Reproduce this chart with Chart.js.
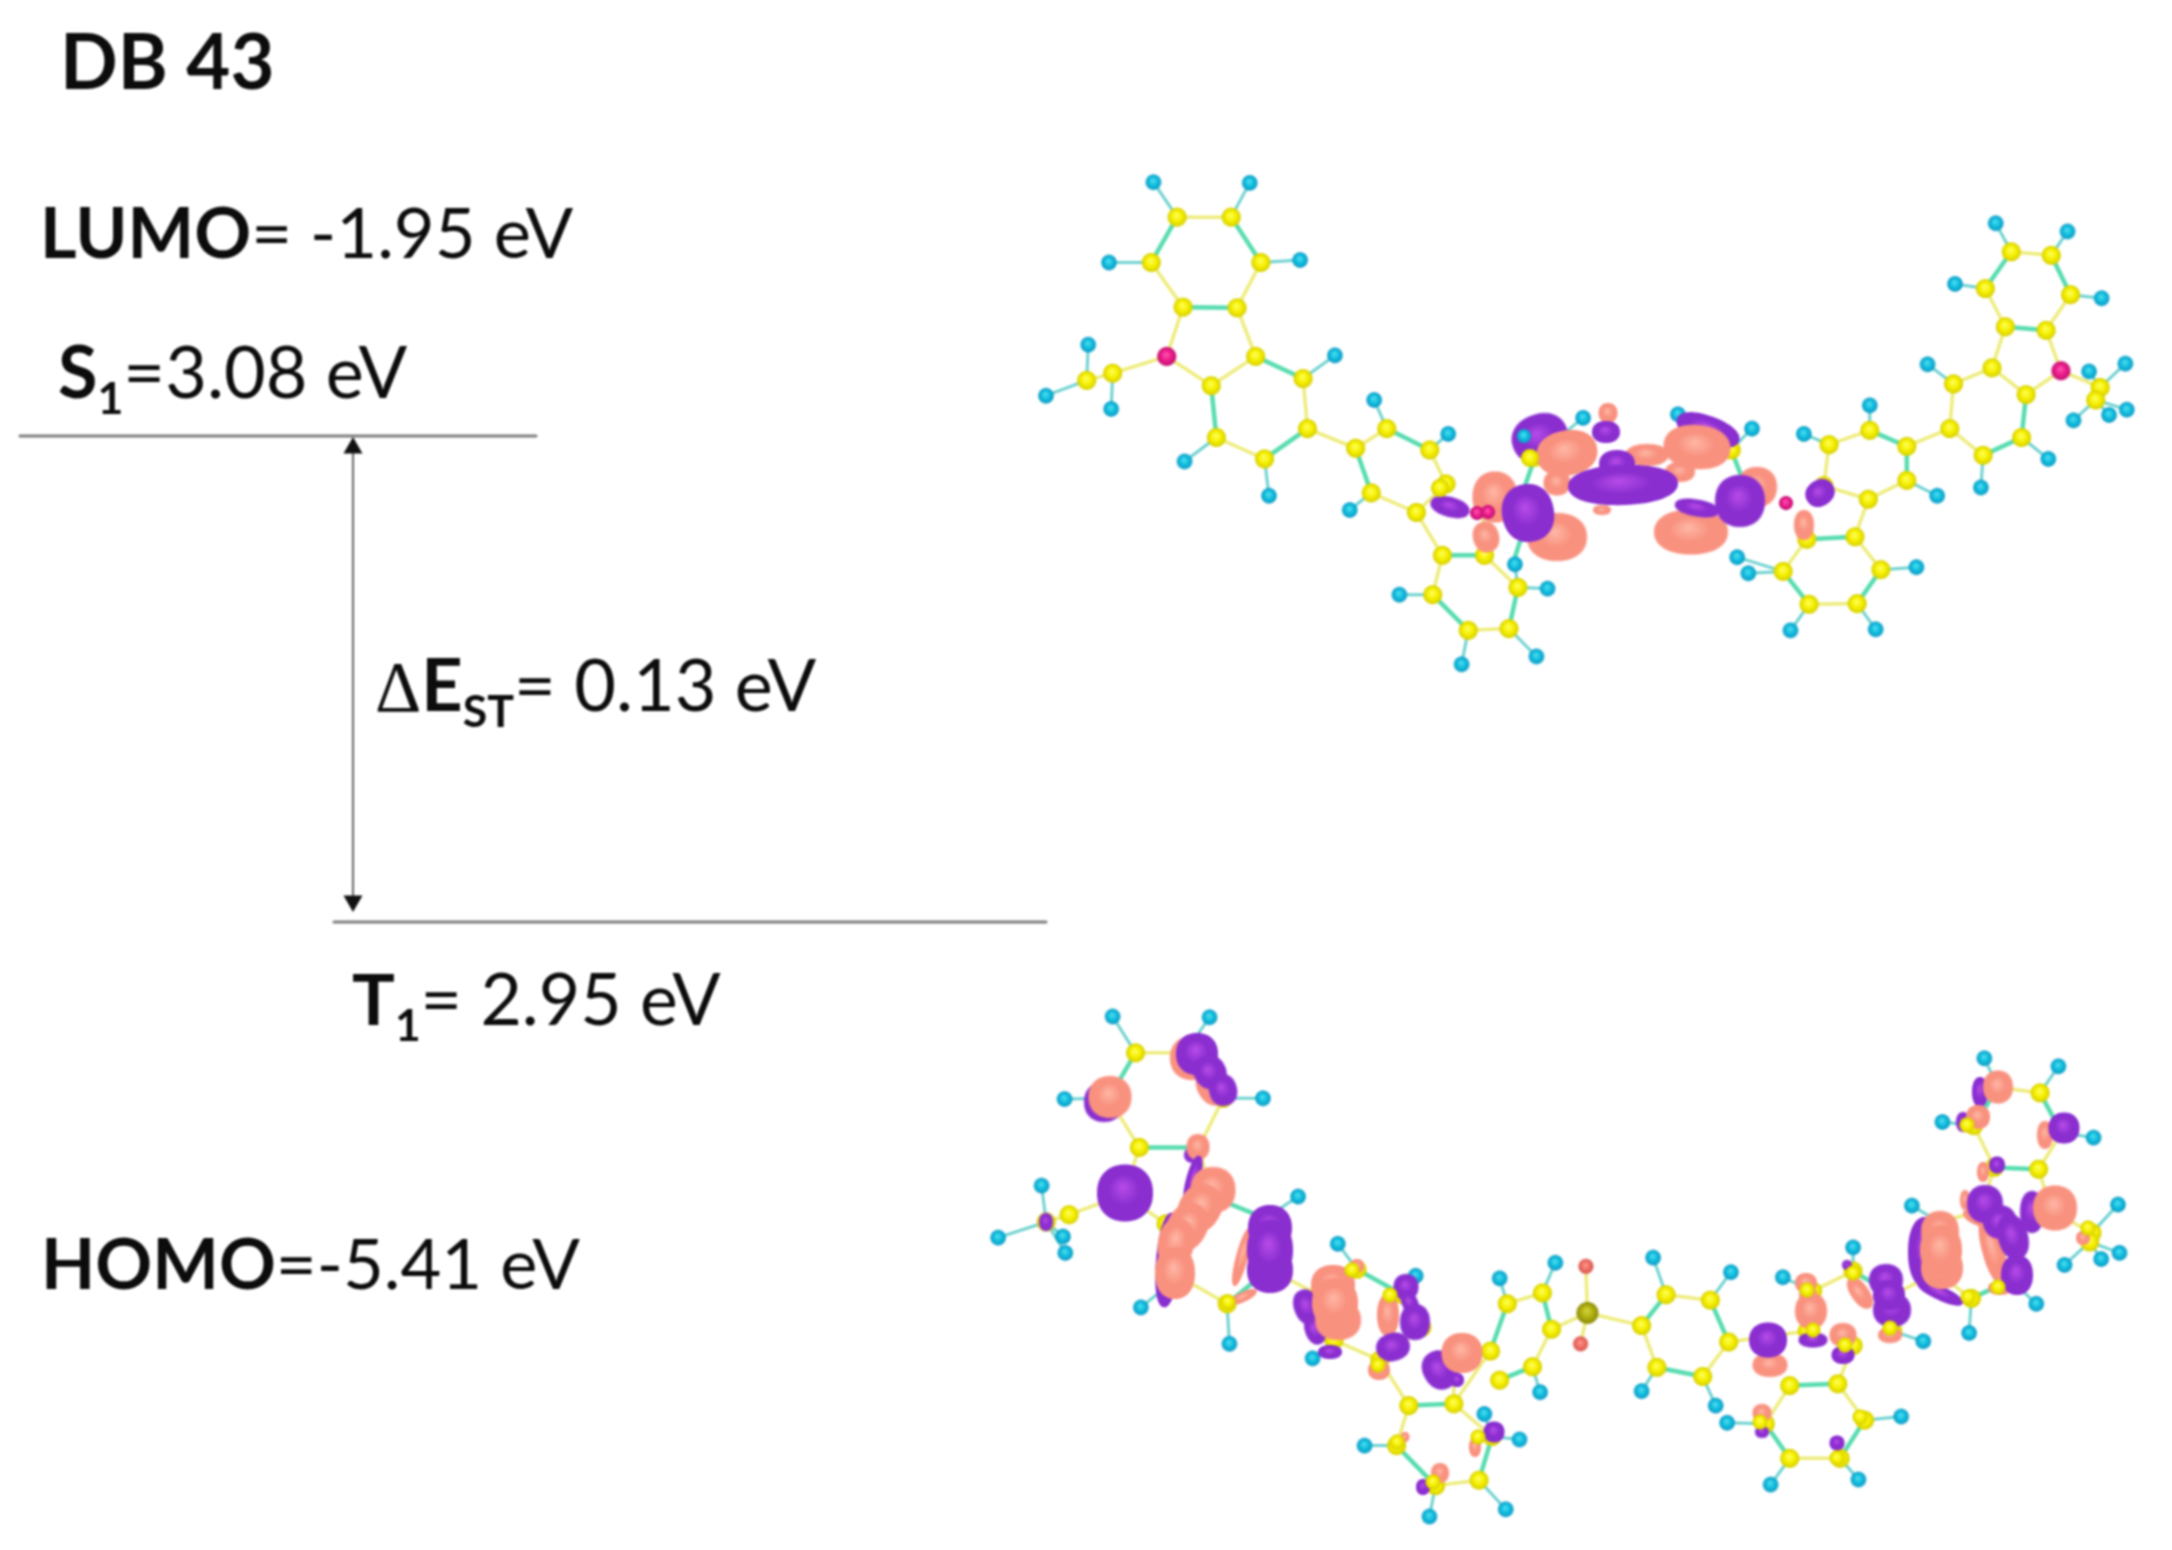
<![CDATA[<!DOCTYPE html>
<html><head><meta charset="utf-8">
<style>html,body{margin:0;padding:0;background:#fff}#w{width:2172px;height:1550px}canvas{display:block;filter:blur(.8px)}</style>
<script src="https://cdn.jsdelivr.net/npm/chart.js@4"></script>
</head><body><div id="w"><canvas id="c" width="2172" height="1550"></canvas></div>
<script>
// ---- diagram values, in picture units of each panel ----
const levelS1 = [[20,436],[536,436]];
const levelT1 = [[334,922],[1046,922]];
const gapArrow = [[353,440],[353,905]];
const gapArrowHeads = [[353,448],[353,901]];

const lumoH = [[180,90],[310,92],[120,315],[378,308],[92,545],[35,688],[123,725],[425,575],[478,700],[578,795],[222,872],[336,968],[445,1008],[760,750],[668,1160],[512,1245],[712,1228],[596,1440],[697,1418],[888,740],[988,780],[968,1140],[983,1185],[1210,1168],[1040,1345],[1155,1342],[1058,795],[1147,715],[1238,968],[1297,945],[1388,865],[1225,600],[1262,375],[1460,415],[1317,205],[1414,228],[1443,620],[1492,598],[1422,757],[1470,742],[1494,727]];
const lumoC = [[212,188],[285,188],[177,315],[325,315],[220,440],[293,442],[318,578],[258,660],[382,640],[265,805],[388,780],[330,865],[125,625],[90,645],[495,780],[553,840],[453,835],[474,960],[575,935],[535,1015],[570,1135],[627,1135],[557,1245],[672,1225],[605,1345],[660,1340],[695,860],[960,840],[1092,825],[1147,785],[1197,830],[1197,925],[1145,978],[1085,940],[1127,1083],[1062,1090],[1162,1175],[1030,1180],[1130,1270],[1065,1272],[1255,780],[1260,655],[1312,610],[1358,685],[1352,805],[1300,855],[1330,495],[1385,505],[1303,388],[1418,405],[1338,285],[1392,295],[1458,665],[1452,700]];
const lumoN = [[198,578],[1405,618]];
const lumoBondsYellow = [[[212,188],[285,188]],[[177,315],[220,440]],[[325,315],[293,442]],[[293,442],[318,578],[258,660],[198,578],[220,440]],[[265,805],[330,865]],[[388,780],[382,640]],[[388,780],[453,835],[495,780]],[[553,840],[575,935],[535,1015],[474,960]],[[535,1015],[570,1135],[557,1245]],[[605,1345],[660,1340]],[[672,1225],[627,1135],[625,1018]],[[198,578],[125,625],[90,645]],[[1092,825],[1147,785]],[[1197,830],[1255,780],[1260,655]],[[1197,925],[1145,978],[1127,1083],[1162,1175]],[[1092,825],[1085,940],[1145,978]],[[1062,1090],[1030,1180]],[[1065,1272],[1130,1270]],[[1300,855],[1255,780]],[[1260,655],[1312,610],[1330,495],[1303,388]],[[1358,685],[1405,618],[1385,505],[1418,405]],[[1338,285],[1392,295]],[[1405,618],[1458,665],[1452,700]],[[1358,685],[1312,610]]];
const lumoBondsTeal = [[[177,315],[212,188]],[[285,188],[325,315]],[[220,440],[293,442]],[[258,660],[265,805]],[[330,865],[388,780]],[[382,640],[318,578]],[[495,780],[553,840]],[[453,835],[474,960]],[[570,1135],[627,1135]],[[557,1245],[605,1345]],[[660,1340],[672,1225]],[[695,860],[680,950]],[[675,1095],[665,1160]],[[960,840],[975,920]],[[1147,785],[1197,830],[1197,925]],[[1127,1083],[1062,1090]],[[1030,1180],[1065,1272]],[[1130,1270],[1162,1175]],[[1358,685],[1352,805],[1300,855]],[[1330,495],[1385,505]],[[1303,388],[1338,285]],[[1392,295],[1418,405]]];
const lumoLobeCentres = [[1602,510],[1557,483],[1540,438],[1647,455],[1680,472],[1567,453],[1608,413],[1606,432],[1708,430],[1697,447],[1757,487],[1691,532],[1697,508],[1740,501],[1495,497],[1557,537],[1528,513],[1486,537],[1450,507],[1617,464],[1623,485],[1804,525],[1820,493]];
const lumoLobeKinds  = ['s','s','p','s','s','s','s','p','p','s','s','s','p','p','s','s','p','s','p','p','p','s','p'];
const lumoLobeWidths = [18,27,57,43,30,61,19,28,66,67,40,74,45,50,45,60,52,26,40,36,110,20,30];
const lumoLobeHeights= [10,25,48,22,20,45,20,22,28,44,40,45,17,52,51,48,58,31,20,28,40,30,26];
const lumoLobeAngles = [0,0,-20,0,0,-10,0,0,20,5,0,0,10,0,0,0,-10,-15,15,0,-2,0,-35];
const lumoFrontC = [[1530,458],[1440,488]];
const lumoFrontH = [[1524,436]];
const lumoFrontN = [[1477,513],[1488,512],[1786,503]];

const homoH = [[175,95],[302,97],[112,322],[372,320],[82,560],[25,703],[113,745],[110,700],[418,590],[470,720],[572,808],[212,895],[328,995],[437,1035],[682,815],[755,772],[883,758],[985,798],[868,1125],[965,1165],[735,1128],[662,1188],[505,1275],[708,1258],[590,1470],[690,1450],[980,1212],[1208,1195],[1037,1382],[1152,1368],[1053,812],[1145,730],[1237,988],[1297,965],[1385,885],[1222,615],[1262,385],[1460,428],[1317,210],[1414,232],[1492,612],[1422,778],[1470,762],[1494,745]];
const homoC = [[205,195],[270,195],[170,320],[320,320],[210,455],[288,455],[305,590],[245,665],[375,650],[262,810],[380,790],[325,885],[118,640],[88,660],[495,790],[555,860],[445,860],[465,985],[580,950],[525,1040],[563,1165],[622,1160],[547,1275],[672,1250],[598,1385],[655,1370],[738,855],[692,885],[750,955],[670,1015],[682,1095],[725,1058],[900,860],[958,875],[868,945],[982,990],[888,1060],[948,1085],[1092,850],[1145,795],[1197,860],[1197,960],[1145,1000],[1085,960],[1125,1105],[1062,1110],[1160,1205],[1030,1215],[1128,1310],[1062,1310],[1255,800],[1258,660],[1312,630],[1358,690],[1352,820],[1300,870],[1330,510],[1388,515],[1303,395],[1418,415],[1335,290],[1390,305],[1458,690],[1455,715]];
const homoS = [[797,910]];
const homoO = [[795,782],[788,995]];
const homoBondsYellow = [[[205,195],[270,195]],[[170,320],[210,455]],[[320,320],[288,455],[305,590]],[[210,455],[190,585],[245,665]],[[262,810],[325,885]],[[380,790],[375,650]],[[380,790],[445,860],[495,790]],[[555,860],[580,950],[525,1040],[465,985]],[[525,1040],[563,1165],[547,1275]],[[598,1385],[655,1370]],[[672,1250],[622,1160],[622,1040]],[[190,585],[118,640],[88,660]],[[692,885],[738,855]],[[750,955],[725,1058],[682,1095]],[[670,1015],[622,1160]],[[750,955],[797,910],[868,945]],[[795,782],[797,910],[788,995]],[[900,860],[958,875]],[[868,945],[888,1060]],[[948,1085],[982,990]],[[982,990],[1085,960]],[[1145,1000],[1125,1105],[1160,1205]],[[1092,850],[1145,795]],[[1197,860],[1255,800],[1258,660]],[[1062,1110],[1030,1215]],[[1062,1310],[1128,1310]],[[1300,870],[1255,800]],[[1258,660],[1312,630],[1330,510],[1303,395]],[[1358,690],[1405,630],[1388,515],[1418,415]],[[1335,290],[1390,305]],[[1405,630],[1458,690],[1455,715]],[[1358,690],[1312,630]]];
const homoBondsTeal = [[[170,320],[205,195]],[[270,195],[320,320]],[[210,455],[288,455]],[[245,665],[262,810]],[[325,885],[380,790]],[[375,650],[305,590]],[[495,790],[555,860]],[[445,860],[465,985]],[[563,1165],[622,1160]],[[547,1275],[598,1385]],[[655,1370],[672,1250]],[[692,885],[670,1015]],[[738,855],[750,955]],[[682,1095],[725,1058]],[[900,860],[868,945]],[[958,875],[982,990]],[[888,1060],[948,1085]],[[1145,795],[1197,860],[1197,960]],[[1125,1105],[1062,1110]],[[1030,1215],[1062,1310]],[[1128,1310],[1160,1205]],[[1358,690],[1352,820],[1300,870]],[[1330,510],[1388,515]],[[1303,395],[1335,290]],[[1390,305],[1418,415]]];

// orbital lobes of the HOMO, listed bottom layer first
const homoLobeCentres = [
 [1104,1102],[1110,1097],[1192,1058],[1214,1086],[1197,1054],[1210,1072],[1223,1090],[1193,1155],[1198,1147],[1193,1180],[1125,1193],[1168,1260],[1213,1190],[1200,1208],[1187,1227],[1176,1243],[1175,1273],
 [1242,1257],[1243,1297],[1270,1228],[1270,1270],[1270,1250],[1046,1222],
 [1307,1307],[1315,1330],[1330,1352],[1333,1285],[1338,1320],[1335,1303],[1357,1266],[1388,1315],[1406,1287],[1410,1303],[1415,1322],[1393,1347],[1379,1370],[1440,1370],[1457,1380],[1462,1353],
 [1494,1432],[1475,1447],[1440,1473],[1423,1487],[1405,1437],
 [1770,1365],[1768,1340],[1806,1283],[1808,1295],[1811,1311],[1813,1340],[1847,1265],[1860,1293],[1886,1280],[1892,1310],[1889,1295],[1890,1335],[1843,1355],[1843,1335],[1762,1432],[1762,1413],[1837,1443],
 [1940,1293],[1925,1252],[1940,1232],[1942,1268],[1941,1250],[1965,1200],[1977,1218],[1993,1250],[2000,1288],[1985,1204],[2000,1222],[2013,1237],[2017,1275],
 [2032,1212],[2055,1208],[1983,1172],[1997,1165],[2045,1135],[2064,1128],[1980,1092],[1998,1087],[1963,1122],[1978,1117],[2083,1238]];
const homoLobeKinds  = ['p','s','s','s','p','p','p','p','s','p','p','p','s','s','s','s','s', 's','s','p','p','p','p', 'p','p','p','s','s','s','s','s','p','p','p','p','s','p','p','s', 'p','s','s','p','s', 's','p','s','s','s','p','p','s','p','p','p','s','p','s','p','s','p', 'p','p','s','s','s','s','s','s','s','p','p','p','p', 'p','s','s','p','s','p','p','s','p','s','s'];
const homoLobeWidths = [40,43,44,34,42,32,28,18,23,14,56,24,45,42,40,36,40, 12,30,44,46,46,14, 26,20,24,44,46,46,14,22,25,16,30,34,22,34,14,41, 21,12,18,14,9, 35,38,22,18,32,29,10,18,34,38,32,24,23,27,14,19,15, 50,34,38,42,42,10,30,22,24,36,34,30,32, 24,44,12,16,16,31,16,30,14,24,14];
const homoLobeHeights= [40,42,44,40,42,34,32,16,26,50,57,95,46,50,50,50,52, 60,10,46,46,60,18, 36,30,14,40,40,50,14,42,26,26,36,28,20,40,14,40, 21,20,20,16,10, 24,35,20,20,36,15,10,36,32,34,30,16,18,24,12,18,15, 14,70,42,42,50,20,14,70,14,38,32,46,40, 42,45,20,17,28,31,30,33,20,24,14];
const homoLobeAngles = [0,0,0,-30,0,-30,-15,0,0,15,0,5,0,30,30,10,0, 15,-25,0,0,0,0, -20,-20,0,0,0,0,0,0,0,-25,0,-15,0,-30,0,0, 0,0,0,0,0, 0,0,0,0,0,0,0,-35,0,0,0,0,0,0,0,0,0, 25,0,0,0,0,0,25,-15,0,0,-25,-15,0, 0,0,0,0,0,0,0,0,0,0,0];
const homoFrontC = [[1228,1302],[1352,1270],[1390,1295],[1378,1365],[1397,1442],[1433,1482],[1478,1437],[1760,1422],[1860,1417],[1837,1458],[1813,1330],[1845,1345],[1890,1328],[1968,1297],[1998,1287],[1853,1273],[1807,1290],[1967,1125],[2088,1228]];

const textBlocks = [
 {x:60,y:89,size:76,runs:[['DB 43',1]]},
 {x:40,y:258,size:70.5,runs:[['LUMO',1],['= -1.95 eV',0]]},
 {x:58,y:398,size:72,runs:[['S',1],['1',1,1],['=3.08 eV',0]]},
 {x:375,y:711,size:72,runs:[['Δ',0,0,1],['E',1],['ST',1,1],['= 0.13 eV',0]]},
 {x:352,y:1025,size:71.5,runs:[['T',1],['1',1,1],['= 2.95 eV',0]]},
 {x:41,y:1289,size:70.5,runs:[['HOMO',1],['=-5.41 eV',0]]}
];

// ---- colours ----
const SHADES = {
 p:['#b84ce8','#8a2ed0','#8a2ed0'], s:['#ffb8a6','#f9917f','#f9917f'],
 c:['#ffff66','#f6f000','#d6ce00'], h:['#55e0f4','#12bede','#0a98c4'],
 n:['#ff5ab0','#ec1c8c','#c01070'], o:['#ff9a90','#ef6f66','#d8554c'], u:['#d6d640','#b0b010','#8a8a08']
};
const C_BOND='#eeec7c', C_TEAL='#58dcb0', C_STEM='#6fd2d0', C_LEVEL='#7d7d7d';

function sprite(kind,w,h,deg,n){
 const s=Math.ceil(Math.hypot(w,h))+4, cv=document.createElement('canvas');cv.width=cv.height=s;
 const g=cv.getContext('2d');g.translate(s/2,s/2);g.rotate((deg||0)*Math.PI/180);g.scale(w/2,h/2);
 const [a,b,c]=SHADES[kind],e=2/(n||2);
 const grad=g.createRadialGradient(-.08,-.22,0,0,0,1);
 grad.addColorStop(0,a);grad.addColorStop(.55,b);grad.addColorStop(1,c);
 g.fillStyle=grad;g.beginPath();
 for(let i=0;i<=72;i++){const t=i/72*2*Math.PI,co=Math.cos(t),si=Math.sin(t);
  g.lineTo(Math.sign(co)*Math.abs(co)**e,Math.sign(si)*Math.abs(si)**e);}
 g.closePath();g.fill();
 return cv;
}
const xy = ([x,y])=>({x,y});
const gap = {x:NaN,y:NaN};
const polyData = list => list.flatMap(p=>[...p.map(xy),gap]);
function nearest(p, pts){let b=pts[0],d=1e18;for(const q of pts){const e=(p[0]-q[0])**2+((p[1]-q[1])/2)**2;if(e<d){d=e;b=q}}return b}

const ds=[];
function lineDs(list,color,width,ax,ay){ds.push({type:'scatter',showLine:true,data:polyData(list),borderColor:color,borderWidth:width,pointRadius:0,xAxisID:ax,yAxisID:ay,spanGaps:false,borderCapStyle:'round',clip:false})}
function dotDs(pts,kind,d,ax,ay){ds.push({type:'scatter',data:pts.map(xy),pointStyle:sprite(kind,d,d,0),pointRadius:d/2,borderWidth:0,xAxisID:ax,yAxisID:ay,clip:false})}
function lobesDs(cs,ks,ws,hs,as){const sp=cs.map((_,i)=>sprite(ks[i],ws[i],hs[i],as[i],2.2));
 ds.push({type:'scatter',data:cs.map(xy),pointStyle:c=>sp[c.dataIndex],pointRadius:5,borderWidth:0,xAxisID:'x',yAxisID:'y',clip:false})}

// levels and arrow
lineDs([levelS1,levelT1],C_LEVEL,3,'x','y');
lineDs([gapArrow],'#555',1.8,'x','y');
ds.push({type:'scatter',data:gapArrowHeads.map(xy),pointStyle:'triangle',pointRotation:[0,180],pointRadius:11,backgroundColor:'#111',borderWidth:0,xAxisID:'x',yAxisID:'y'});

// LUMO panel
lineDs(lumoBondsYellow,C_BOND,3.5,'xL','yL');
lineDs(lumoBondsTeal,C_TEAL,4.5,'xL','yL');
lineDs(lumoH.map(h=>[h,nearest(h,lumoC)]),C_STEM,3,'xL','yL');
dotDs(lumoC,'c',19,'xL','yL');dotDs(lumoH,'h',15.5,'xL','yL');dotDs(lumoN,'n',19,'xL','yL');
lobesDs(lumoLobeCentres,lumoLobeKinds,lumoLobeWidths,lumoLobeHeights,lumoLobeAngles);
dotDs(lumoFrontC,'c',18,'x','y');dotDs(lumoFrontH,'h',14,'x','y');dotDs(lumoFrontN,'n',14,'x','y');

// HOMO panel
lineDs(homoBondsYellow,C_BOND,3.5,'xH','yH');
lineDs(homoBondsTeal,C_TEAL,4.5,'xH','yH');
lineDs(homoH.map(h=>[h,nearest(h,homoC)]),C_STEM,3,'xH','yH');
dotDs(homoC,'c',19,'xH','yH');dotDs(homoH,'h',15.5,'xH','yH');
dotDs(homoO,'o',15,'xH','yH');dotDs(homoS,'u',22,'xH','yH');
lobesDs(homoLobeCentres,homoLobeKinds,homoLobeWidths,homoLobeHeights,homoLobeAngles);
dotDs(homoFrontC,'c',15,'x','y');

ds.reverse(); // first pushed = bottom layer

const textPlugin={id:'labels',afterDatasetsDraw(chart){
 const c=chart.ctx,sx=chart.scales.x,sy=chart.scales.y;
 c.save();c.fillStyle='#0c0c0c';c.textBaseline='alphabetic';c.textAlign='left';
 for(const b of textBlocks){
  let px=sx.getPixelForValue(b.x);const py=sy.getPixelForValue(b.y);
  for(const [t,bold,sub,sym] of b.runs){
   const sz=sub?b.size*.62:b.size;
   c.font=(bold?'700 ':'400 ')+sz+'px '+(sym?'"Liberation Serif"':'Lato');
   c.fillText(t,px,py+(sub?16:0));
   px+=c.measureText(t).width;
  }
 }
 c.restore();
}};

const hidden=(min,max,reverse)=>({type:'linear',display:false,min,max,reverse:!!reverse});
new Chart(document.getElementById('c'),{
 type:'scatter',
 data:{datasets:ds},
 plugins:[textPlugin],
 options:{responsive:false,animation:false,devicePixelRatio:1,layout:{padding:0,autoPadding:false},
  plugins:{legend:{display:false},tooltip:{enabled:false},title:{display:false}},
  scales:{
   x:hidden(0,2172),y:hidden(0,1550,true),
   xL:hidden(-1377,1555),yL:hidden(-420,3920,true),
   xH:hidden(-1282.5,1562.8),yH:hidden(-2700,1562,true)
  }}
});
</script></body></html>]]>
